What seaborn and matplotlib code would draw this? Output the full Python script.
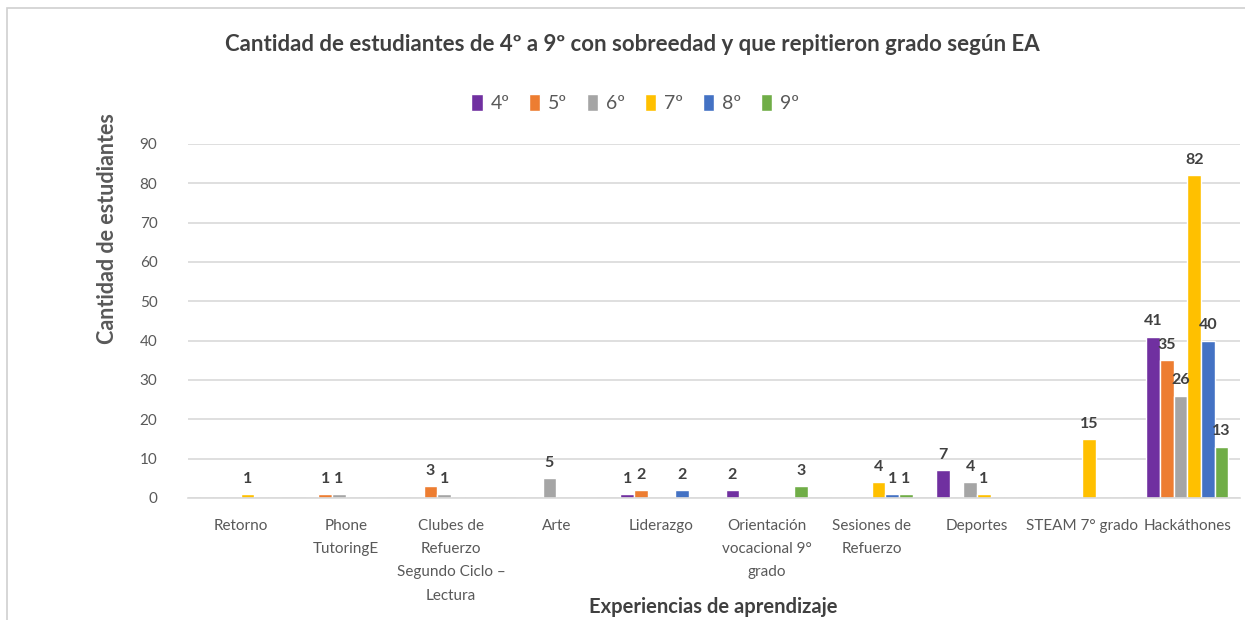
import pandas as pd
import numpy as np
import matplotlib
matplotlib.use("Agg")
import matplotlib.pyplot as plt
import seaborn as sns

# ── Data ────────────────────────────────────────────────
CATEGORIES = [
    "Retorno", "Phone\nTutoringE", "Clubes de\nRefuerzo\nSegundo Ciclo –\nLectura",
    "Arte", "Liderazgo", "Orientación\nvocacional 9°\ngrado", "Sesiones de\nRefuerzo",
    "Deportes", "STEAM 7° grado", "Hackáthones",
]
GRADES = ["4º", "5º", "6º", "7º", "8º", "9º"]

G4 = [0, 0, 0, 0, 1, 2, 0, 7, 0, 41]
G5 = [0, 1, 3, 0, 2, 0, 0, 0, 0, 35]
G6 = [0, 1, 1, 5, 0, 0, 0, 4, 0, 26]
G7 = [1, 0, 0, 0, 0, 0, 4, 1, 15, 82]
G8 = [0, 0, 0, 0, 2, 0, 1, 0, 0, 40]
G9 = [0, 0, 0, 0, 0, 3, 1, 0, 0, 13]

COLORS = ["#7030A0", "#ED7D31", "#A5A5A5", "#FFC000", "#4472C4", "#70AD47"]
TXT = "#595959"

rows = []
for grade, vals in zip(GRADES, [G4, G5, G6, G7, G8, G9]):
    for cat, v in zip(CATEGORIES, vals):
        rows.append({"cat": cat, "grade": grade, "val": v})
df = pd.DataFrame(rows)

sns.set_theme(style="white")
plt.rcParams["font.family"] = ["Lato", "DejaVu Sans"]

fig = plt.figure(figsize=(12.45, 6.2), dpi=100, facecolor="white")
ax = fig.add_axes([0.151, 0.197, 0.845, 0.571])

sns.barplot(data=df, x="cat", y="val", hue="grade", order=CATEGORIES,
            hue_order=GRADES, palette=COLORS, width=0.78, saturation=1,
            errorbar=None, ax=ax, legend=True)

for container in ax.containers:
    labels = [f"{int(b.get_height())}" if b.get_height() > 0 else "" for b in container]
    ax.bar_label(container, labels=labels, padding=6, fontsize=11.5,
                 fontweight="bold", color="#404040")

ax.set_ylim(0, 90)
ax.set_yticks(np.arange(0, 91, 10))
ax.grid(axis="y", color="#D9D9D9", lw=1.2)
ax.set_axisbelow(True)
for s in ["top", "right", "left"]:
    ax.spines[s].set_visible(False)
ax.spines["bottom"].set_color("#D9D9D9")
ax.spines["bottom"].set_linewidth(1.2)
ax.tick_params(axis="y", length=0, labelsize=11, labelcolor=TXT, pad=22)
ax.tick_params(axis="x", length=0, labelsize=11, labelcolor=TXT, pad=15)
for t in ax.get_xticklabels():
    t.set_linespacing(1.85)
    t.set_verticalalignment("top")
ax.set_xlabel("")
ax.set_ylabel("")

leg = ax.legend(loc="center", bbox_to_anchor=(0.51, 0.834), bbox_transform=fig.transFigure,
                ncol=6, frameon=False, fontsize=14, handlelength=0.6, handleheight=1.0,
                handletextpad=0.4, columnspacing=1.0)
for t in leg.get_texts():
    t.set_color(TXT)

fig.text(0.508, 0.928, "Cantidad de estudiantes de 4º a 9º con sobreedad y que repitieron grado según EA",
         ha="center", va="center", fontsize=16, fontweight="bold", color="#404040")
fig.text(0.086, 0.632, "Cantidad de estudiantes", rotation=90, ha="center", va="center",
         fontsize=15.5, fontweight="bold", color=TXT)
fig.text(0.573, 0.021, "Experiencias de aprendizaje", ha="center", va="center",
         fontsize=14.5, fontweight="bold", color="#404040")

# chart frame
fig.add_artist(plt.Rectangle((0.006, -0.01), 1.0, 0.997, transform=fig.transFigure,
                             fill=False, edgecolor="#D0D0D0", lw=1.2))

fig.savefig("out.png", dpi=100, facecolor="white")
